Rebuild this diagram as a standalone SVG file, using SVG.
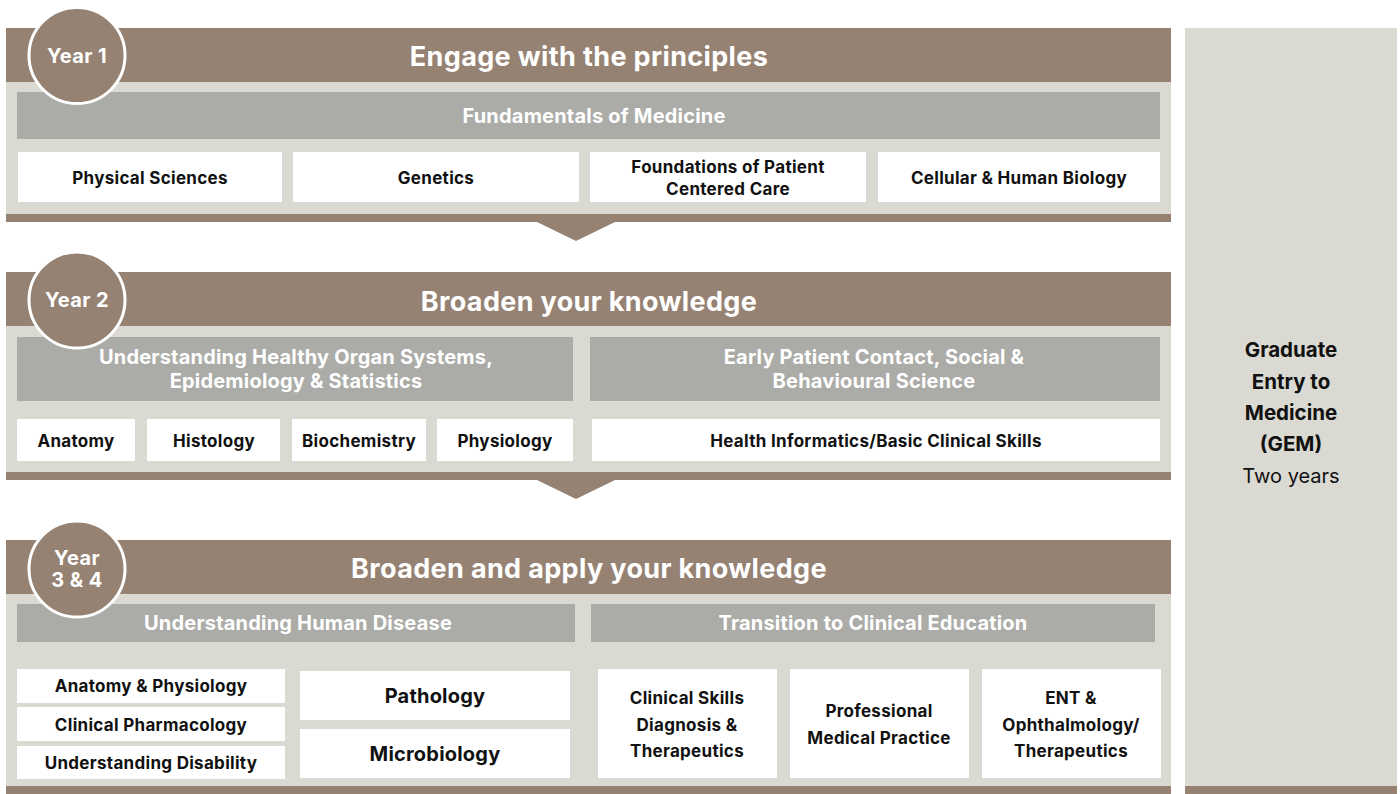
<svg xmlns="http://www.w3.org/2000/svg" width="1400" height="794" viewBox="0 0 1400 794">
<defs>
<style>
.brown{fill:#968273}
.light{fill:#dad9d2}
.bar{fill:#abaca7}
.box{fill:#ffffff}
.circ{fill:#968273;stroke:#ffffff;stroke-width:3}
text{font-family:Inter,"Liberation Sans",sans-serif;font-weight:700;text-anchor:middle}
.h{fill:#ffffff;font-size:27px;letter-spacing:0.35px}
.yr{fill:#ffffff;font-size:20px;letter-spacing:0.4px}
.bt{fill:#ffffff;font-size:20px;letter-spacing:0.2px}
.t{fill:#111111;font-size:17px;letter-spacing:0.3px}
.tl{fill:#111111;font-size:20px;letter-spacing:0.2px}
.side{fill:#111111;font-size:20.5px}
.sider{fill:#111111;font-size:20px;font-weight:400}
</style>
</defs>
<rect x="0" y="0" width="1400" height="794" fill="#ffffff"/>

<g id="side-panel">
<rect class="light" x="1185" y="28" width="212" height="758"/>
<rect class="brown" x="1185" y="786" width="212" height="8"/>
<text class="side" x="1291" y="357">Graduate</text>
<text class="side" x="1291" y="389">Entry to</text>
<text class="side" x="1291" y="420">Medicine</text>
<text class="side" x="1291" y="451">(GEM)</text>
<text class="sider" x="1291" y="483">Two years</text>
</g>

<g id="connectors">
<polygon class="brown" points="537,222 615,222 576,241"/>
<polygon class="brown" points="537,480 615,480 576,499"/>
</g>

<g id="year1">
<rect class="light" x="6" y="82" width="1165" height="132"/>
<rect class="brown" x="6" y="28" width="1165" height="54"/>
<rect class="brown" x="6" y="214" width="1165" height="8"/>
<text class="h" x="589" y="66">Engage with the principles</text>
<g id="fundamentals">
<rect class="bar" x="17" y="92" width="1143" height="47"/>
<text class="bt" x="594" y="123">Fundamentals of Medicine</text>
</g>
<g id="physical-sciences"><rect class="box" x="18" y="152" width="264" height="50"/><text class="t" x="150" y="184">Physical Sciences</text></g>
<g id="genetics"><rect class="box" x="293" y="152" width="286" height="50"/><text class="t" x="436" y="184">Genetics</text></g>
<g id="foundations"><rect class="box" x="590" y="152" width="276" height="50"/><text class="t" x="728" y="173">Foundations of Patient</text><text class="t" x="728" y="195">Centered Care</text></g>
<g id="cellular"><rect class="box" x="878" y="152" width="282" height="50"/><text class="t" x="1019" y="184">Cellular &amp; Human Biology</text></g>
<g id="year1-badge">
<circle class="circ" cx="77" cy="55.5" r="48"/>
<text class="yr" x="77" y="63">Year 1</text>
</g>
</g>

<g id="year2">
<rect class="light" x="6" y="326" width="1165" height="146"/>
<rect class="brown" x="6" y="272" width="1165" height="54"/>
<rect class="brown" x="6" y="472" width="1165" height="8"/>
<text class="h" x="589" y="311">Broaden your knowledge</text>
<g id="healthy-organ">
<rect class="bar" x="17" y="337" width="556" height="64"/>
<text class="bt" x="296" y="364">Understanding Healthy Organ Systems,</text>
<text class="bt" x="296" y="388">Epidemiology &amp; Statistics</text>
</g>
<g id="early-patient">
<rect class="bar" x="590" y="337" width="570" height="64"/>
<text class="bt" x="874" y="364">Early Patient Contact, Social &amp;</text>
<text class="bt" x="874" y="388">Behavioural Science</text>
</g>
<g id="anatomy"><rect class="box" x="17" y="419" width="118" height="42"/><text class="t" x="76" y="447">Anatomy</text></g>
<g id="histology"><rect class="box" x="147" y="419" width="133" height="42"/><text class="t" x="214" y="447">Histology</text></g>
<g id="biochemistry"><rect class="box" x="292" y="419" width="134" height="42"/><text class="t" x="359" y="447">Biochemistry</text></g>
<g id="physiology"><rect class="box" x="437" y="419" width="136" height="42"/><text class="t" x="505" y="447">Physiology</text></g>
<g id="health-informatics"><rect class="box" x="592" y="419" width="568" height="42"/><text class="t" x="876" y="447">Health Informatics/Basic Clinical Skills</text></g>
<g id="year2-badge">
<circle class="circ" cx="77" cy="300" r="48"/>
<text class="yr" x="77" y="307">Year 2</text>
</g>
</g>

<g id="year3-4">
<rect class="light" x="6" y="594" width="1165" height="192"/>
<rect class="brown" x="6" y="540" width="1165" height="54"/>
<rect class="brown" x="6" y="786" width="1165" height="8"/>
<text class="h" x="589" y="578">Broaden and apply your knowledge</text>
<g id="human-disease">
<rect class="bar" x="17" y="604" width="558" height="38"/>
<text class="bt" x="298" y="630">Understanding Human Disease</text>
</g>
<g id="transition">
<rect class="bar" x="591" y="604" width="564" height="38"/>
<text class="bt" x="873" y="630">Transition to Clinical Education</text>
</g>
<g id="anatomy-physiology"><rect class="box" x="17" y="669" width="268" height="34"/><text class="t" x="151" y="692">Anatomy &amp; Physiology</text></g>
<g id="clinical-pharmacology"><rect class="box" x="17" y="707" width="268" height="34"/><text class="t" x="151" y="731">Clinical Pharmacology</text></g>
<g id="understanding-disability"><rect class="box" x="17" y="746" width="268" height="33"/><text class="t" x="151" y="769">Understanding Disability</text></g>
<g id="pathology"><rect class="box" x="300" y="671" width="270" height="49"/><text class="tl" x="435" y="703">Pathology</text></g>
<g id="microbiology"><rect class="box" x="300" y="729" width="270" height="49"/><text class="tl" x="435" y="761">Microbiology</text></g>
<g id="clinical-skills"><rect class="box" x="598" y="669" width="179" height="109"/><text class="t" x="687" y="704">Clinical Skills</text><text class="t" x="687" y="731">Diagnosis &amp;</text><text class="t" x="687" y="757">Therapeutics</text></g>
<g id="professional"><rect class="box" x="790" y="669" width="179" height="109"/><text class="t" x="879" y="717">Professional</text><text class="t" x="879" y="744">Medical Practice</text></g>
<g id="ent"><rect class="box" x="982" y="669" width="179" height="109"/><text class="t" x="1071" y="704">ENT &amp;</text><text class="t" x="1071" y="731">Ophthalmology/</text><text class="t" x="1071" y="757">Therapeutics</text></g>
<g id="year3-4-badge">
<circle class="circ" cx="77" cy="569" r="48"/>
<text class="yr" x="77" y="565">Year</text>
<text class="yr" x="77" y="587">3 &amp; 4</text>
</g>
</g>
</svg>
